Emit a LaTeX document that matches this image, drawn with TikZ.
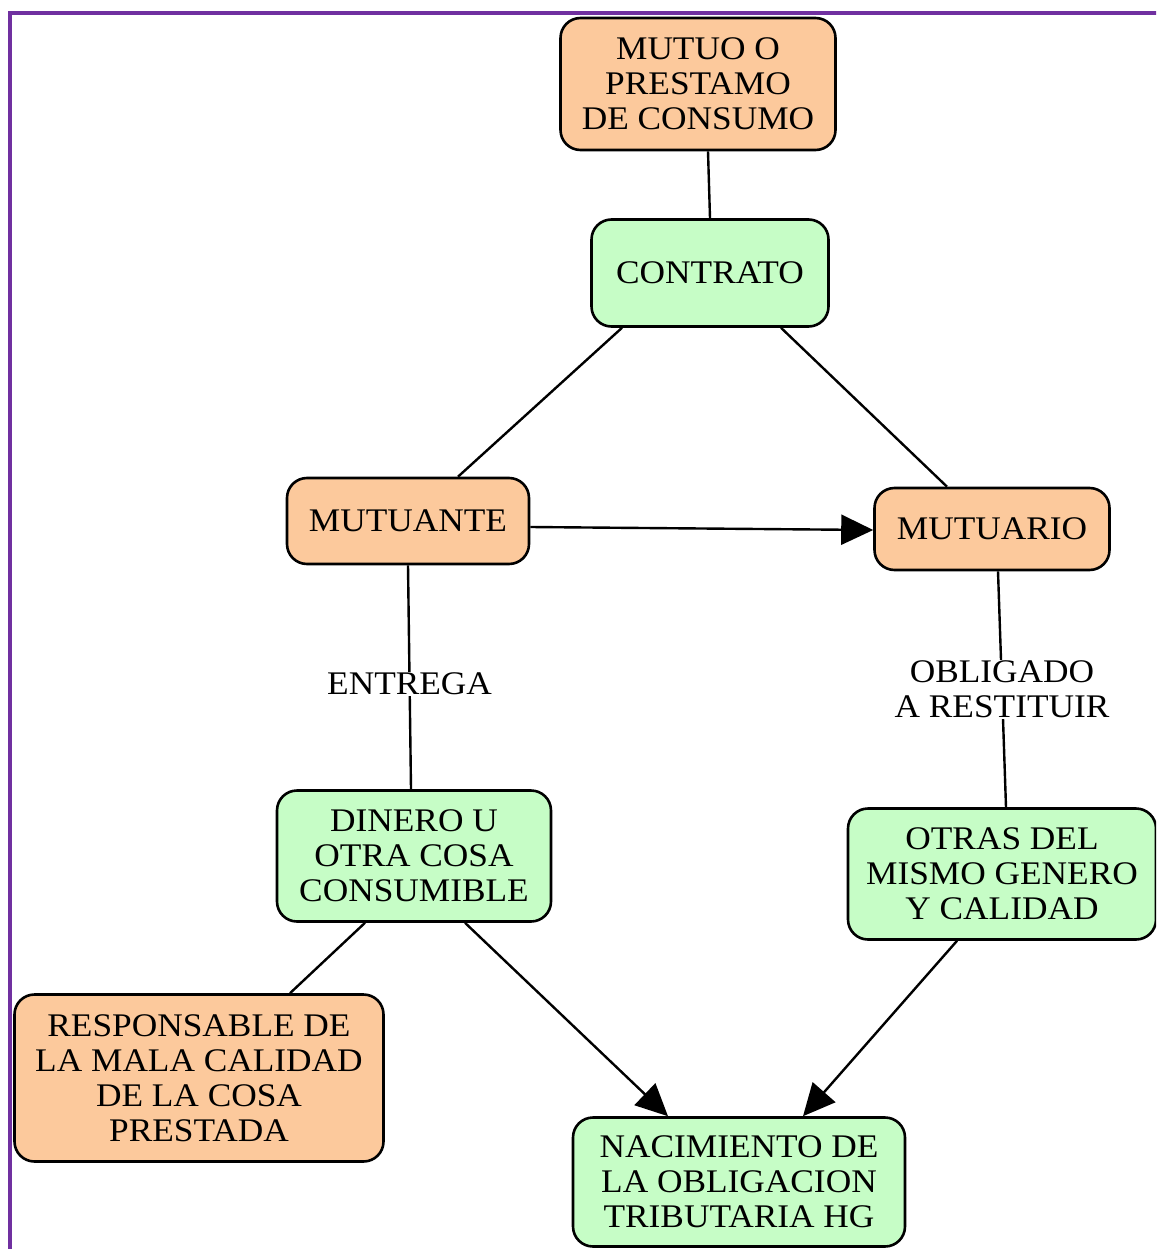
\documentclass[tikz,border=0pt]{standalone}
\usepackage{fontspec}
\setmainfont[FakeStretch=1.07]{Liberation Serif}
\usetikzlibrary{arrows.meta}
\definecolor{orangefill}{HTML}{FCC99C}
\definecolor{greenfill}{HTML}{C6FDC6}
\definecolor{framepurple}{HTML}{7030A0}
\begin{document}
\begin{tikzpicture}[x=1pt,y=-1pt,
  box/.style={draw=black,line width=2.6pt,rounded corners=20pt,align=center,
    font=\fontsize{33}{35}\selectfont,inner sep=0pt},
  obox/.style={box,fill=orangefill},
  gbox/.style={box,fill=greenfill},
  conn/.style={draw=black,line width=2.4pt},
  arr/.style={conn,-{Triangle[length=32pt,width=30pt]}},
  lab/.style={fill=white,font=\fontsize{33}{35}\selectfont,align=center,inner sep=1pt}]
\useasboundingbox (0,0) rectangle (1156,1249);
\clip (0,0) rectangle (1156,1249);
\fill[white] (0,0) rectangle (1156,1249);
% frame
\draw[framepurple,line width=3.5pt] (10,1260) -- (10,13) -- (1170,13);
% nodes
\node[obox,minimum width=275pt,minimum height=132pt] (mutuo) at (698,84) {MUTUO O\\PRESTAMO\\DE CONSUMO};
\node[gbox,minimum width=237pt,minimum height=107pt] (contrato) at (710,273) {CONTRATO};
\node[obox,minimum width=242pt,minimum height=86pt] (mutuante) at (408,521) {MUTUANTE};
\node[obox,minimum width=235pt,minimum height=82pt] (mutuario) at (992,529) {MUTUARIO};
\node[gbox,minimum width=274pt,minimum height=131pt] (dinero) at (414,856) {DINERO U\\OTRA COSA\\CONSUMIBLE};
\node[gbox,minimum width=308pt,minimum height=131pt] (otras) at (1002,874) {OTRAS DEL\\MISMO GENERO\\Y CALIDAD};
\node[obox,minimum width=369pt,minimum height=167pt] (respons) at (199,1078) {RESPONSABLE DE\\LA MALA CALIDAD\\DE LA COSA\\PRESTADA};
\node[gbox,minimum width=332pt,minimum height=129pt] (nacim) at (739,1182) {NACIMIENTO DE\\LA OBLIGACION\\TRIBUTARIA HG};
% connectors
\draw[conn] ([xshift=10pt]mutuo.south) -- (contrato.north);
\draw[conn] ([xshift=-88pt]contrato.south) -- ([xshift=50pt]mutuante.north);
\draw[conn] ([xshift=71pt]contrato.south) -- ([xshift=-45pt]mutuario.north);
\draw[arr] ([yshift=-6pt]mutuante.east) -- ([yshift=-1pt]mutuario.west);
\draw[conn] (mutuante.south) -- node[lab,pos=0.53] (entrega) {ENTREGA} ([xshift=-3pt]dinero.north);
\draw[conn] ([xshift=6pt]mutuario.south) -- node[lab,pos=0.5] (oblig) {OBLIGADO\\A RESTITUIR} ([xshift=4pt]otras.north);
\draw[conn] ([xshift=-49pt]dinero.south) -- ([xshift=91pt]respons.north);
\draw[arr] ([xshift=51pt]dinero.south) -- ([xshift=-71pt]nacim.north);
\draw[arr] ([xshift=-45pt]otras.south) -- ([xshift=64pt]nacim.north);
\end{tikzpicture}
\end{document}
